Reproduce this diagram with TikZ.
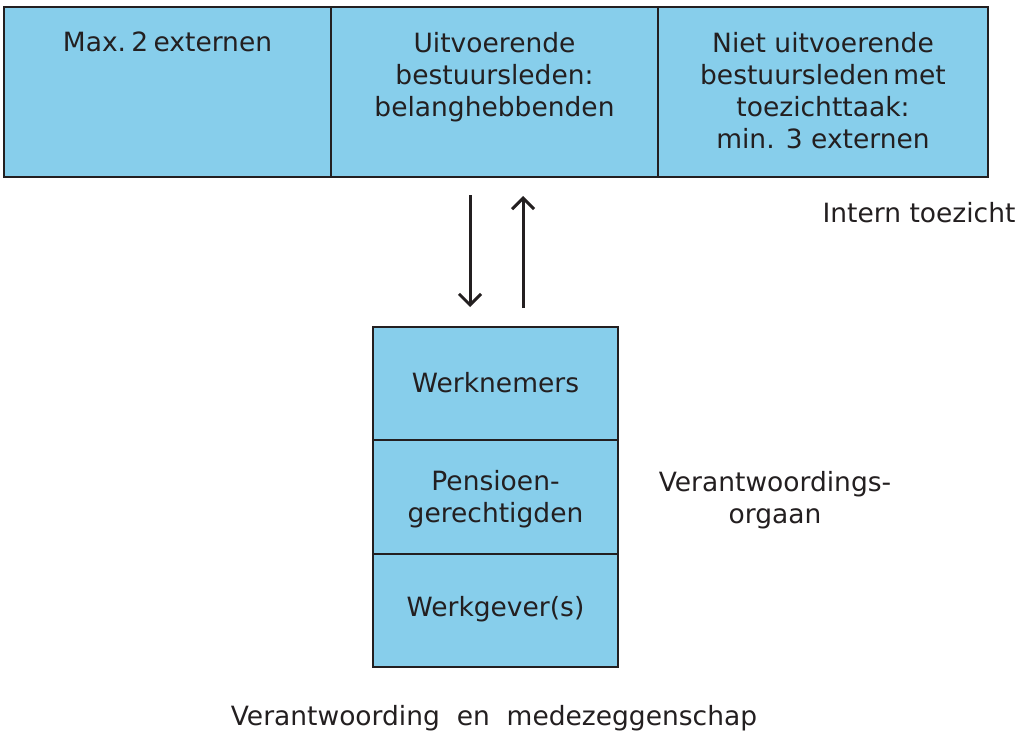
\documentclass[tikz,border=0pt]{standalone}
\usepackage{fontspec}
\setmainfont{DejaVu Sans}
\usetikzlibrary{arrows.meta}
\definecolor{boxfill}{RGB}{135,206,235}
\definecolor{ink}{RGB}{35,31,32}
\tikzset{
  cell/.style={draw=ink, line width=1.6pt, fill=boxfill},
  label/.style={text=ink, font=\fontsize{26.5}{32}\selectfont, align=center, inner sep=0pt},
  flow/.style={draw=ink, line width=3pt, -{Straight Barb[length=11pt,width=22pt,line width=3pt]}}
}
\begin{document}
\begin{tikzpicture}[x=1pt,y=-1pt]
\useasboundingbox (0,0) rectangle (1024,736);

% bestuur: three cells side by side
\draw[cell] (4,7) rectangle (331,177);
\draw[cell] (331,7) rectangle (658,177);
\draw[cell] (658,7) rectangle (988,177);

\node[label, anchor=north] (ext) at (167.5,32) {Max.\hspace{0.2em}2\hspace{0.2em}externen};
\node[label, anchor=north] (uitv) at (494.5,32) {Uitvoerende\\bestuursleden:\\belanghebbenden};
\node[label, anchor=north] (nuitv) at (823,32) {Niet uitvoerende\\bestuursleden\hspace{0.15em}met\\toezichttaak:\\min. 3 externen};

\node[label] (intern) at (919,213) {Intern toezicht};

% verantwoordingsorgaan: three stacked cells
\draw[cell] (373,327) rectangle (618,440);
\draw[cell] (373,440) rectangle (618,554);
\draw[cell] (373,554) rectangle (618,667);

\node[label] (wn) at (495.5,383) {Werknemers};
\node[label] (pg) at (495.5,499) {Pensioen-\\gerechtigden};
\node[label] (wg) at (495.5,609) {Werkgever(s)};

\node[label] (vo) at (775,500) {Verantwoordings-\\orgaan};

\node[label] (vm) at (494,718) {Verantwoording\ \ en\ \ medezeggenschap};

% arrows between the two bodies
\coordinate (dtop) at (470,195);
\coordinate (dbot) at (470,307);
\coordinate (utop) at (523,196);
\coordinate (ubot) at (523,308);
\draw[flow] (dtop) -- (dbot);
\draw[flow] (ubot) -- (utop);
\end{tikzpicture}
\end{document}
